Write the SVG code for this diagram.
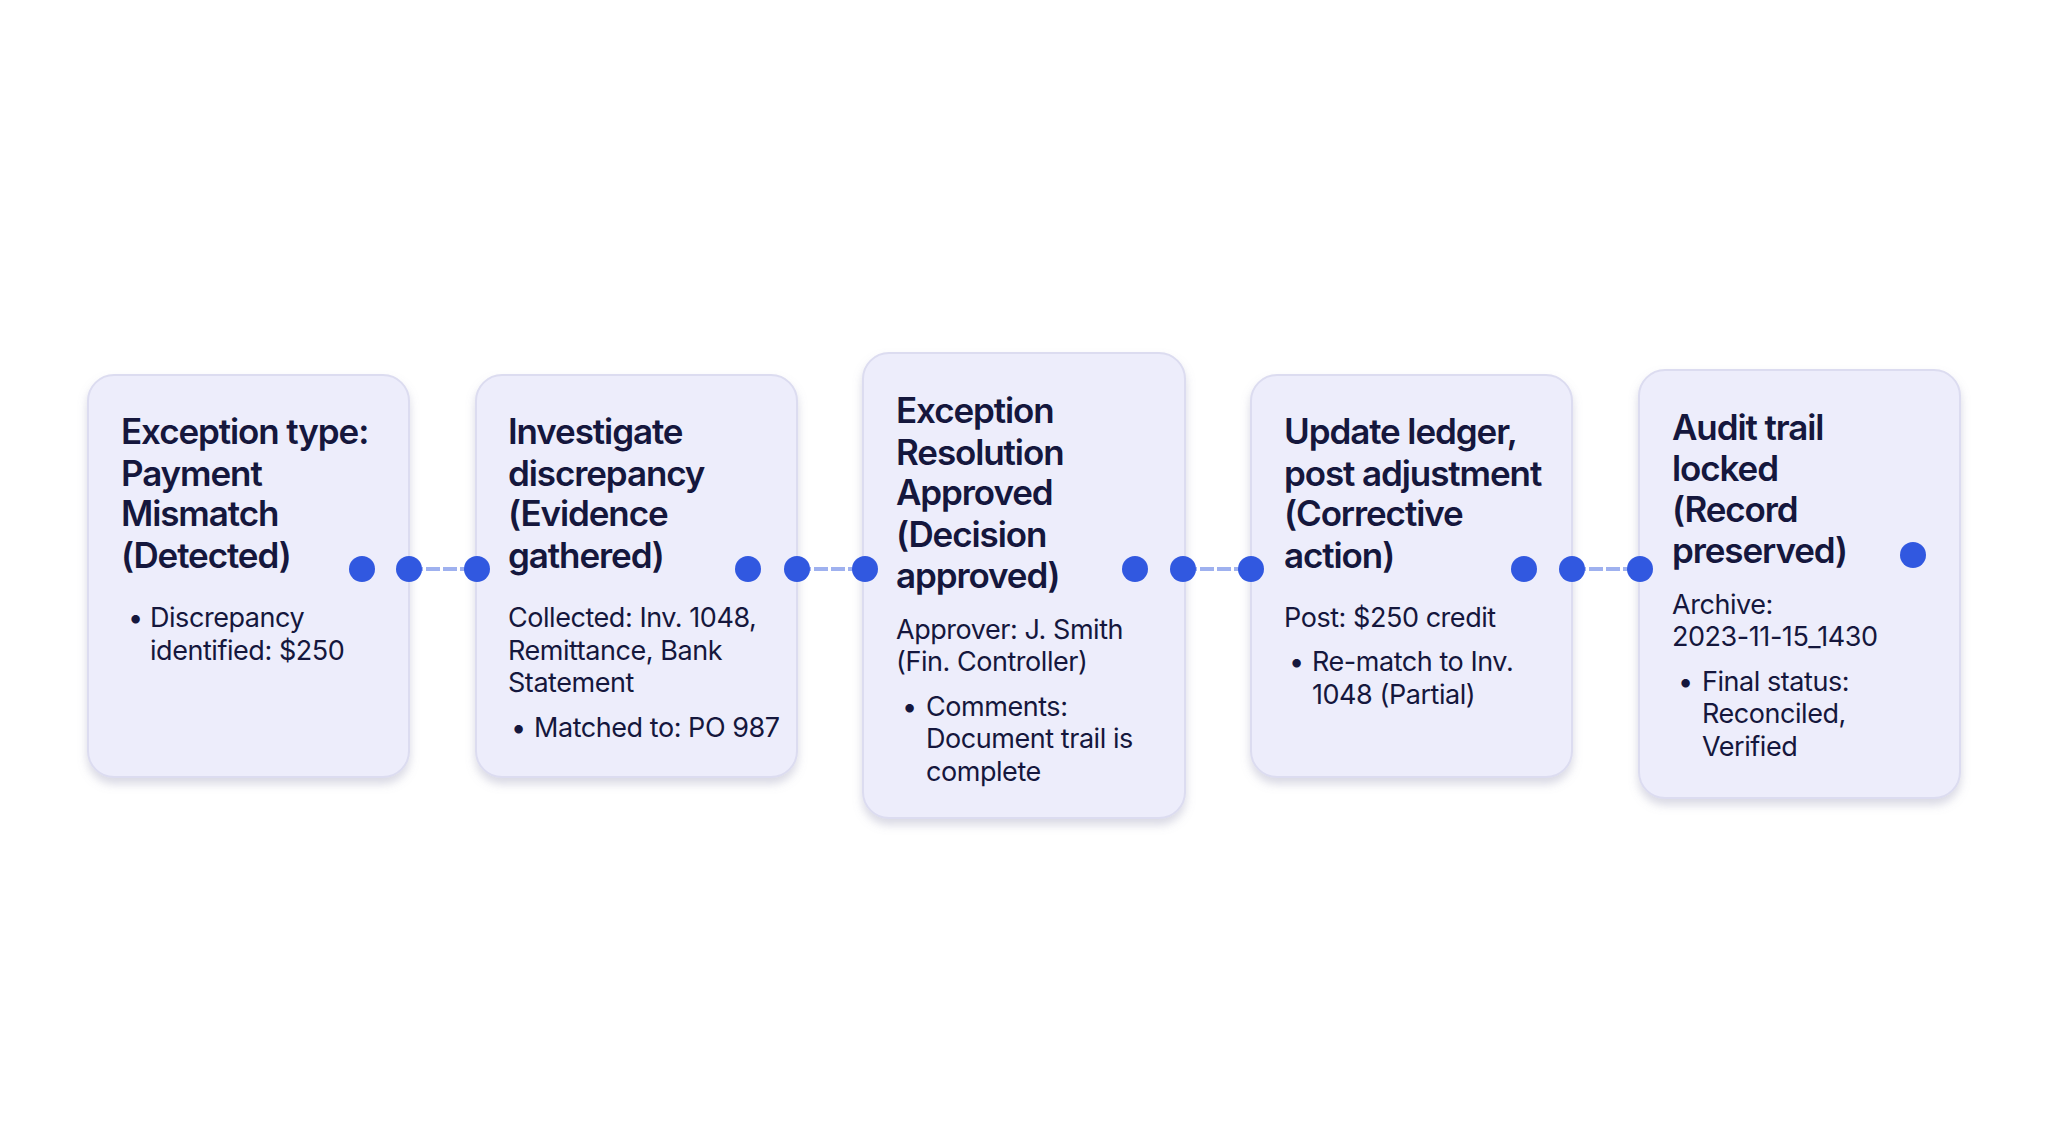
<svg xmlns="http://www.w3.org/2000/svg" width="2048" height="1143" viewBox="0 0 2048 1143">
<defs>
<style>
.card{fill:#ededfb;stroke:#dcdcf0;stroke-width:2}
.t{font-family:Inter,"Noto Sans",sans-serif;font-weight:600;font-size:35px;letter-spacing:-1.1px;fill:#15173d}
.b{font-family:Inter,"Noto Sans",sans-serif;font-size:27px;letter-spacing:-0.45px;fill:#15173d}
.dot{fill:#3158e0}
.ln{stroke:#9fb1ef;stroke-width:4;stroke-dasharray:14 3}
</style>
<filter id="sh" x="-10%" y="-10%" width="120%" height="125%"><feDropShadow dx="0" dy="6" stdDeviation="5" flood-color="#9090b0" flood-opacity="0.35"/></filter>
</defs>
<rect width="2048" height="1143" fill="#ffffff"/>
<g id="n1"><rect class="card" filter="url(#sh)" x="88" y="375" width="321" height="402" rx="26"/>
<text class="t" x="121"><tspan x="121" y="444">Exception type:</tspan><tspan x="121" y="486">Payment</tspan><tspan x="121" y="526">Mismatch</tspan><tspan x="121" y="568">(Detected)</tspan></text>
<text class="b"><tspan x="128" y="627">•</tspan><tspan x="150" y="627">Discrepancy</tspan><tspan x="150" y="660">identified: $250</tspan></text></g>
<g id="n2"><rect class="card" filter="url(#sh)" x="476" y="375" width="321" height="402" rx="26"/>
<text class="t"><tspan x="508" y="444">Investigate</tspan><tspan x="508" y="486">discrepancy</tspan><tspan x="508" y="526">(Evidence</tspan><tspan x="508" y="568">gathered)</tspan></text>
<text class="b"><tspan x="508" y="627">Collected: Inv. 1048,</tspan><tspan x="508" y="660">Remittance, Bank</tspan><tspan x="508" y="692">Statement</tspan><tspan x="511" y="737">•</tspan><tspan x="534" y="737">Matched to: PO 987</tspan></text></g>
<g id="n3"><rect class="card" filter="url(#sh)" x="863" y="353" width="322" height="465" rx="26"/>
<text class="t"><tspan x="896" y="423">Exception</tspan><tspan x="896" y="465">Resolution</tspan><tspan x="896" y="505">Approved</tspan><tspan x="896" y="547">(Decision</tspan><tspan x="896" y="588">approved)</tspan></text>
<text class="b"><tspan x="896" y="639">Approver: J. Smith</tspan><tspan x="896" y="671">(Fin. Controller)</tspan><tspan x="902" y="716">•</tspan><tspan x="926" y="716">Comments:</tspan><tspan x="926" y="748">Document trail is</tspan><tspan x="926" y="781">complete</tspan></text></g>
<g id="n4"><rect class="card" filter="url(#sh)" x="1251" y="375" width="321" height="402" rx="26"/>
<text class="t"><tspan x="1284" y="444">Update ledger,</tspan><tspan x="1284" y="486">post adjustment</tspan><tspan x="1284" y="526">(Corrective</tspan><tspan x="1284" y="568">action)</tspan></text>
<text class="b"><tspan x="1284" y="627">Post: $250 credit</tspan><tspan x="1289" y="671">•</tspan><tspan x="1312" y="671">Re-match to Inv.</tspan><tspan x="1312" y="704">1048 (Partial)</tspan></text></g>
<g id="n5"><rect class="card" filter="url(#sh)" x="1639" y="370" width="321" height="428" rx="26"/>
<text class="t"><tspan x="1672" y="440">Audit trail</tspan><tspan x="1672" y="481">locked</tspan><tspan x="1672" y="522">(Record</tspan><tspan x="1672" y="563">preserved)</tspan></text>
<text class="b"><tspan x="1672" y="614">Archive:</tspan><tspan x="1672" y="646">2023-11-15_1430</tspan><tspan x="1678" y="691">•</tspan><tspan x="1702" y="691">Final status:</tspan><tspan x="1702" y="723">Reconciled,</tspan><tspan x="1702" y="756">Verified</tspan></text></g>
<g id="connectors">
<line class="ln" x1="409" y1="569" x2="477" y2="569"/>
<line class="ln" x1="797" y1="569" x2="865" y2="569"/>
<line class="ln" x1="1183" y1="569" x2="1251" y2="569"/>
<line class="ln" x1="1572" y1="569" x2="1640" y2="569"/>
<circle class="dot" cx="362" cy="569" r="13"/><circle class="dot" cx="409" cy="569" r="13"/><circle class="dot" cx="477" cy="569" r="13"/>
<circle class="dot" cx="748" cy="569" r="13"/><circle class="dot" cx="797" cy="569" r="13"/><circle class="dot" cx="865" cy="569" r="13"/>
<circle class="dot" cx="1135" cy="569" r="13"/><circle class="dot" cx="1183" cy="569" r="13"/><circle class="dot" cx="1251" cy="569" r="13"/>
<circle class="dot" cx="1524" cy="569" r="13"/><circle class="dot" cx="1572" cy="569" r="13"/><circle class="dot" cx="1640" cy="569" r="13"/>
<circle class="dot" cx="1913" cy="555" r="13"/>
</g>
</svg>
